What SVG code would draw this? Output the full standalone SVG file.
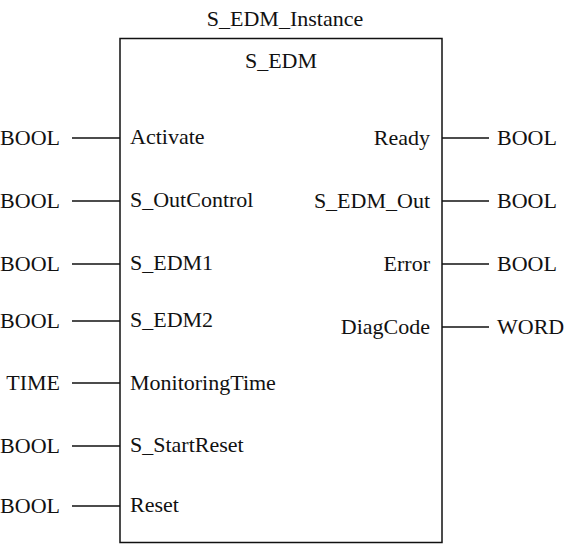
<svg xmlns="http://www.w3.org/2000/svg" width="564" height="544" viewBox="0 0 564 544">
<style>
text{font-family:"Liberation Serif","Times New Roman",serif;font-size:22px;fill:#111}
.e{text-anchor:end}
.m{text-anchor:middle}
.s{stroke:#111;stroke-width:1.5;fill:none}
</style>
<rect width="564" height="544" fill="#fff"/>
<g id="block">
<text class="m" x="285" y="26">S_EDM_Instance</text>
<rect class="s" x="120" y="38.5" width="322" height="504"/>
<text class="m" x="281" y="68">S_EDM</text>
</g>
<g id="connectors" class="s">
<line x1="72" y1="138" x2="120" y2="138"/>
<line x1="72" y1="201" x2="120" y2="201"/>
<line x1="72" y1="264" x2="120" y2="264"/>
<line x1="72" y1="321" x2="120" y2="321"/>
<line x1="72" y1="383" x2="120" y2="383"/>
<line x1="72" y1="446" x2="120" y2="446"/>
<line x1="72" y1="506" x2="120" y2="506"/>
<line x1="442" y1="138" x2="489" y2="138"/>
<line x1="442" y1="201" x2="489" y2="201"/>
<line x1="442" y1="264" x2="489" y2="264"/>
<line x1="442" y1="327" x2="489" y2="327"/>
</g>
<g id="in-activate"><text class="e" x="60" y="145">BOOL</text><text x="130" y="144">Activate</text></g>
<g id="in-soutcontrol"><text class="e" x="60" y="208">BOOL</text><text x="130" y="207">S_OutControl</text></g>
<g id="in-sedm1"><text class="e" x="60" y="271">BOOL</text><text x="130" y="270">S_EDM1</text></g>
<g id="in-sedm2"><text class="e" x="60" y="328">BOOL</text><text x="130" y="327">S_EDM2</text></g>
<g id="in-monitoringtime"><text class="e" x="60" y="390">TIME</text><text x="130" y="390">MonitoringTime</text></g>
<g id="in-sstartreset"><text class="e" x="60" y="453">BOOL</text><text x="130" y="452">S_StartReset</text></g>
<g id="in-reset"><text class="e" x="60" y="513">BOOL</text><text x="130" y="512">Reset</text></g>
<g id="out-ready"><text class="e" x="430" y="145">Ready</text><text x="497" y="145">BOOL</text></g>
<g id="out-sedmout"><text class="e" x="430" y="208">S_EDM_Out</text><text x="497" y="208">BOOL</text></g>
<g id="out-error"><text class="e" x="430" y="271">Error</text><text x="497" y="271">BOOL</text></g>
<g id="out-diagcode"><text class="e" x="430" y="334">DiagCode</text><text x="497" y="334">WORD</text></g>
</svg>
